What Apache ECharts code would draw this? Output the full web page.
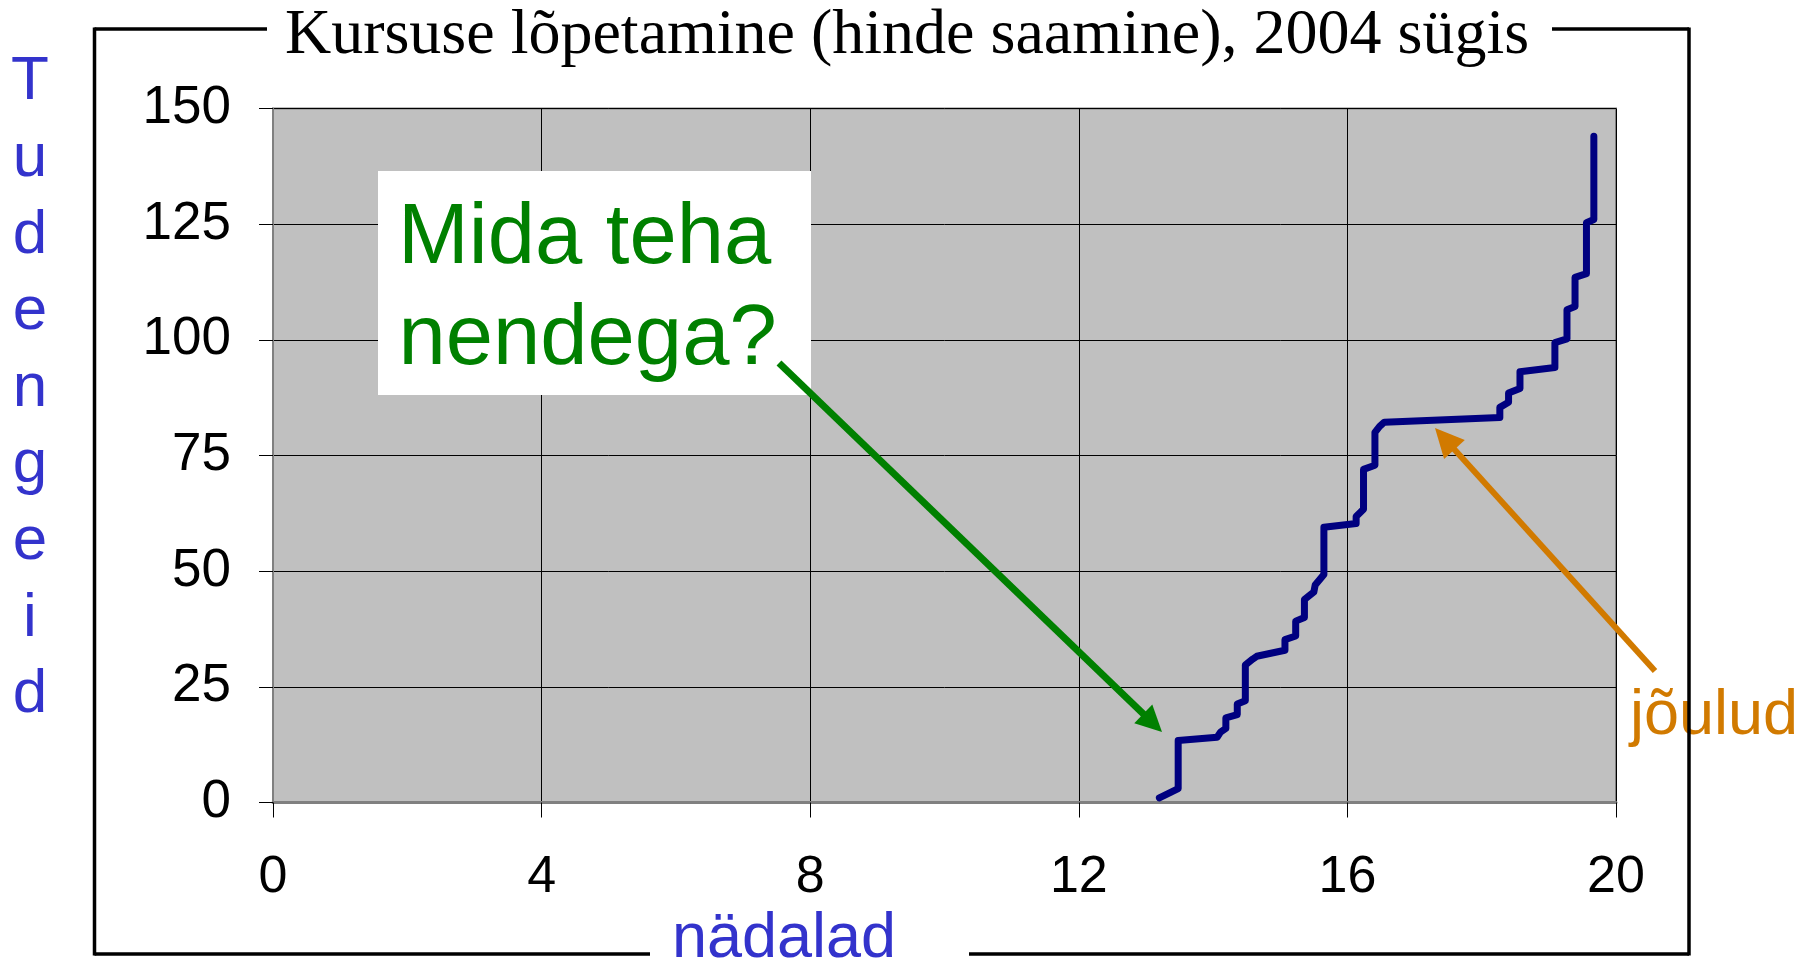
<!DOCTYPE html>
<html>
<head>
<meta charset="utf-8">
<title>Kursuse lõpetamine</title>
<script src="https://cdn.jsdelivr.net/npm/echarts/dist/echarts.min.js"></script>
<style>
  html, body { margin: 0; padding: 0; background: #fff; }
  #chart { width: 1807px; height: 965px; }
</style>
</head>
<body>
<div id="chart"></div>
<script>
// cumulative count of students who got a grade, by week of the semester
const weeks = [
  13.2, 13.48, 13.48, 14.06, 14.11, 14.19, 14.19, 14.36, 14.36, 14.48,
  14.48, 14.59, 14.65, 15.07, 15.07, 15.23, 15.23, 15.36, 15.36, 15.5,
  15.52, 15.65, 15.65, 16.13, 16.13, 16.24, 16.24, 16.41, 16.41, 16.48,
  16.55, 18.27, 18.27, 18.4, 18.4, 18.57, 18.57, 19.09, 19.09, 19.27,
  19.27, 19.39, 19.39, 19.56, 19.56, 19.67, 19.67,
];
const students = [
  1, 3, 13.4, 14.1, 15.2, 16, 18.3, 19, 21.3, 22,
  29.7, 31, 31.6, 32.9, 35.2, 36, 39.2, 40, 43.9, 45.5,
  47, 49.3, 59.5, 60.3, 61.8, 63.4, 72, 72.9, 80, 81.3,
  82.2, 83.2, 85.4, 86.5, 88.5, 89.5, 93.1, 94, 99.4, 100.2,
  106.5, 107.2, 113.5, 114.3, 125.3, 126, 144,
];
const xTicks = { min: 0, max: 20, interval: 4 };
const yTicks = { min: 0, max: 150, interval: 25 };

const titleText = "Kursuse lõpetamine (hinde saamine), 2004 sügis";
const yName = "Tudengeid";
const xName = "nädalad";
const noteLines = ["Mida teha", "nendega?"];
const xmasText = "jõulud";

const SANS = "Liberation Sans, Arial, sans-serif";
const SERIF = "Liberation Serif, Times New Roman, serif";
const BLUE = "#3333cc";
const GREEN = "#008000";
const ORANGE = "#d17a00";

function arrow(x1, y1, x2, y2, color, width, head, half) {
  const len = Math.hypot(x2 - x1, y2 - y1);
  const ux = (x2 - x1) / len;
  const uy = (y2 - y1) / len;
  const bx = x2 - ux * head;
  const by = y2 - uy * head;
  return [
    {
      type: "line",
      shape: { x1: x1, y1: y1, x2: bx + ux * 2, y2: by + uy * 2 },
      style: { stroke: color, lineWidth: width },
      z: 20,
    },
    {
      type: "polygon",
      shape: {
        points: [
          [x2, y2],
          [bx - uy * half, by + ux * half],
          [bx + uy * half, by - ux * half],
        ],
      },
      style: { fill: color },
      z: 20,
    },
  ];
}

function frameLine(x1, y1, x2, y2) {
  return {
    type: "line",
    shape: { x1: x1, y1: y1, x2: x2, y2: y2 },
    style: { stroke: "#000", lineWidth: 3.5 },
    z: 30,
  };
}

const chart = echarts.init(document.getElementById("chart"));

chart.setOption({
  animation: false,
  backgroundColor: "#fff",
  grid: {
    left: 273,
    top: 108.5,
    width: 1343,
    height: 694,
    show: true,
    backgroundColor: "#c0c0c0",
    borderColor: "#808080",
    borderWidth: 2,
  },
  xAxis: {
    type: "value",
    min: xTicks.min,
    max: xTicks.max,
    interval: xTicks.interval,
    axisLine: { show: true, onZero: false, lineStyle: { color: "#808080", width: 3 } },
    axisTick: { show: true, length: 15, lineStyle: { color: "#000", width: 1 } },
    splitLine: { show: true, lineStyle: { color: "#000", width: 1 } },
    axisLabel: { fontSize: 52, color: "#000", fontFamily: SANS, margin: 49 },
  },
  yAxis: {
    type: "value",
    min: yTicks.min,
    max: yTicks.max,
    interval: yTicks.interval,
    axisLine: { show: true, lineStyle: { color: "#808080", width: 2 } },
    axisTick: { show: true, length: 14, lineStyle: { color: "#000", width: 1 } },
    splitLine: { show: true, lineStyle: { color: "#000", width: 1 } },
    axisLabel: { fontSize: 53, color: "#000", fontFamily: SANS, margin: 42 },
  },
  series: [
    {
      type: "line",
      data: weeks.map((w, i) => [w, students[i]]),
      showSymbol: false,
      lineStyle: { color: "#000080", width: 7, cap: "round", join: "round" },
      z: 5,
    },
  ],
  graphic: [
    // outer frame, broken by the title and the x axis name
    frameLine(94.5, 29, 267, 29),
    frameLine(1552, 29, 1689, 29),
    frameLine(1689, 27.5, 1689, 955.5),
    frameLine(1689, 954, 969, 954),
    frameLine(650, 954, 94.5, 954),
    frameLine(94.5, 955.5, 94.5, 27.5),
    {
      type: "text",
      x: 907,
      y: 36.5,
      style: {
        text: titleText,
        fill: "#000",
        font: "64px " + SERIF,
        textAlign: "center",
        textVerticalAlign: "middle",
      },
      z: 25,
    },
    {
      type: "text",
      x: 30,
      y: 44,
      style: {
        text: yName.split("").join("\n"),
        fill: BLUE,
        font: "62px " + SANS,
        lineHeight: 76.6,
        textAlign: "center",
        textVerticalAlign: "top",
      },
      z: 25,
    },
    {
      type: "text",
      x: 784,
      y: 940,
      style: {
        text: xName,
        fill: BLUE,
        font: "63px " + SANS,
        textAlign: "center",
        textVerticalAlign: "middle",
      },
      z: 25,
    },
    // note box
    {
      type: "rect",
      shape: { x: 378, y: 171, width: 433, height: 224 },
      style: { fill: "#fff" },
      z: 15,
    },
    {
      type: "text",
      x: 398,
      y: 240,
      style: {
        text: noteLines[0],
        fill: GREEN,
        font: "85px " + SANS,
        textAlign: "left",
        textVerticalAlign: "middle",
      },
      z: 16,
    },
    {
      type: "text",
      x: 398.5,
      y: 341,
      style: {
        text: noteLines[1],
        fill: GREEN,
        font: "85px " + SANS,
        textAlign: "left",
        textVerticalAlign: "middle",
      },
      z: 16,
    },
    ...arrow(779, 363, 1162, 732, GREEN, 7, 26, 13),
    ...arrow(1655, 671, 1435, 428, ORANGE, 6, 29, 14),
    {
      type: "text",
      x: 1630,
      y: 717,
      style: {
        text: xmasText,
        fill: ORANGE,
        font: "63px " + SANS,
        textAlign: "left",
        textVerticalAlign: "middle",
      },
      z: 25,
    },
  ],
});
</script>
</body>
</html>
